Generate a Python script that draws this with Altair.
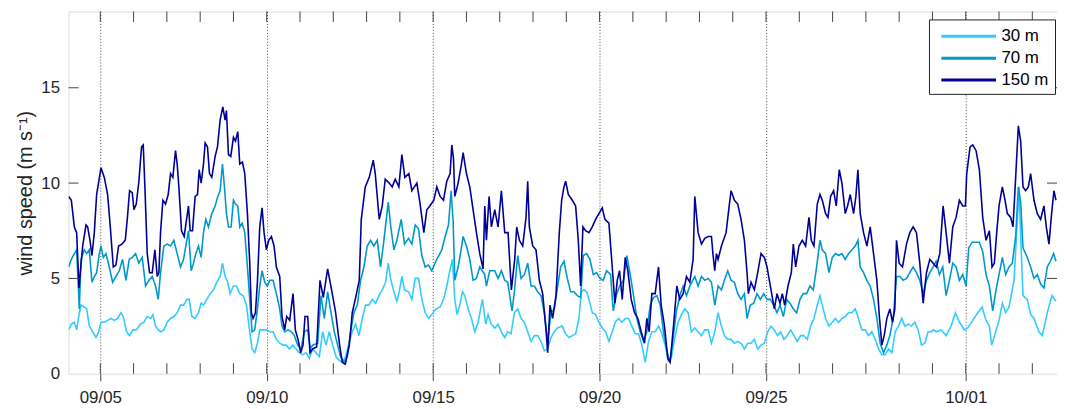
import altair as alt
import pandas as pd

# ---- data: time in days since 2014-09-04 00:00, wind speed in m/s ----
t150 = [0.05,0.13,0.22,0.29,0.36,0.47,0.57,0.62,0.69,0.75,0.82,0.89,1.02,1.12,1.22,1.30,1.39,1.47,1.55,1.65,1.75,1.81,1.88,1.96,2.01,2.08,2.16,2.24,2.29,2.34,2.41,2.48,2.56,2.64,2.71,2.76,2.81,2.88,2.96,3.04,3.11,3.18,3.26,3.31,3.36,3.44,3.52,3.60,3.65,3.70,3.77,3.85,3.92,3.97,4.03,4.10,4.15,4.22,4.28,4.35,4.45,4.52,4.60,4.68,4.75,4.79,4.85,4.92,5.00,5.06,5.13,5.19,5.27,5.34,5.42,5.49,5.54,5.59,5.66,5.72,5.79,5.86,5.92,5.99,6.06,6.14,6.22,6.29,6.39,6.46,6.54,6.60,6.69,6.79,6.86,6.94,7.02,7.09,7.15,7.23,7.30,
        7.38,7.50,7.60,7.70,7.83,7.98,8.07,8.19,8.27,8.36,8.48,8.57,8.66,8.78,8.84,8.96,9.08,9.20,9.26,9.38,9.47,9.56,9.68,9.77,9.86,9.97,10.06,10.15,10.27,10.36,10.51,10.60,10.72,10.81,10.90,11.02,11.11,11.21,
        11.31,11.41,11.51,11.56,11.61,11.65,11.75,11.85,11.90,12.00,12.10,12.20,12.30,12.40,12.50,12.55,12.60,12.68,12.75,12.85,12.95,13.05,13.15,13.25,13.35,13.45,13.51,13.59,13.69,13.79,13.84,13.89,13.99,14.09,14.19,14.29,14.39,14.44,14.51,14.59,14.69,14.79,14.86,14.93,14.98,15.06,15.18,15.28,15.36,15.43,15.50,15.58,15.68,15.78,15.88,15.98,16.08,16.16,16.28,16.38,16.46,16.53,16.60,16.68,16.77,16.85,16.95,17.05,17.15,17.25,17.35,17.42,17.49,17.57,17.67,17.77,17.85,17.95,18.05,18.12,18.22,18.32,18.41,18.51,18.61,18.71,18.81,18.86,18.96,19.06,19.16,
        19.26,19.36,19.41,19.46,19.51,19.56,19.66,19.80,19.90,19.95,20.05,20.15,20.25,20.35,20.43,20.47,20.55,20.65,20.75,20.85,20.95,21.03,21.13,21.25,21.33,21.42,21.49,21.56,21.66,21.76,21.82,21.89,21.99,22.09,22.19,22.29,22.36,22.44,22.54,22.62,22.69,22.79,22.86,22.94,23.03,23.11,23.20,23.28,23.38,23.45,23.53,23.63,23.70,23.76,23.83,23.93,24.03,24.13,24.23,24.33,24.41,24.48,24.55,24.63,24.72,24.80,24.87,24.92,25.00,25.10,25.22,25.32,25.42,25.52,25.62,25.72,25.82,25.92,26.02,26.12,26.22,26.32,26.41,26.51,26.61,26.71,26.81,26.91,26.99,27.03,27.13,27.21,27.31,27.41,27.51,27.61,27.71,27.79,27.86,27.93,28.00,28.10,28.18,28.25,28.35,28.42,28.50,28.58,28.65,28.72,28.80,28.88,28.95,29.05,29.15,29.25,29.35,29.42,29.50,29.58,29.65,29.71]
v150 = [9.3,9.1,7.7,7.4,4.5,6.7,7.8,7.7,7.0,6.2,7.4,9.4,10.8,10.3,9.4,7.7,5.6,5.7,6.7,6.8,7.0,8.1,9.6,9.5,8.6,8.9,10.1,11.9,12.0,9.8,6.3,5.3,5.3,6.5,5.1,5.3,7.4,9.1,8.9,9.4,10.5,10.3,11.7,11.0,9.8,7.5,7.2,8.2,8.8,7.5,7.5,9.3,9.4,10.7,10.0,11.0,12.1,11.9,10.5,10.3,11.4,11.9,13.3,14.0,13.3,13.8,11.5,11.4,12.4,12.2,12.7,11.0,11.1,10.5,8.4,5.8,3.2,2.9,3.2,4.8,7.7,8.7,7.4,6.5,7.0,7.2,6.7,5.6,5.1,3.0,2.3,3.0,2.8,4.2,2.3,1.8,1.1,1.5,3.0,3.0,1.1,
        1.3,1.4,4.9,4.0,5.5,4.1,3.2,1.5,0.6,0.5,1.5,3.2,3.9,4.9,8.1,9.8,10.3,11.2,10.5,8.1,8.8,10.2,10.0,9.8,10.2,9.8,11.5,10.3,10.5,9.6,10.0,9.0,7.4,8.6,8.8,9.1,9.8,9.3,
        9.1,10.1,10.5,12.0,11.3,9.3,10.0,11.0,11.6,10.5,9.8,8.6,7.4,6.3,5.5,8.8,7.0,9.3,7.7,8.6,7.7,9.6,7.4,7.4,4.4,6.0,7.7,7.0,6.7,8.2,10.1,7.7,6.7,6.5,4.9,4.2,2.3,1.1,3.6,2.9,4.1,7.4,9.1,9.8,10.1,9.4,9.1,8.8,7.0,4.6,7.7,7.5,7.4,7.7,8.1,8.4,8.7,8.1,7.9,5.6,3.7,4.9,5.4,3.9,6.1,5.4,3.9,3.2,2.9,2.2,1.6,2.9,2.2,4.2,4.2,5.6,3.6,2.5,0.8,0.6,2.5,4.6,3.9,4.2,5.1,4.8,6.0,9.3,7.4,6.8,7.1,
        7.2,7.2,6.2,5.4,6.3,6.0,6.7,7.4,8.9,9.6,9.1,8.9,8.1,7.0,5.3,4.2,4.8,4.4,5.3,6.3,6.1,5.6,4.6,3.4,4.2,3.7,4.2,3.6,4.6,5.3,6.8,5.6,6.7,7.0,6.7,8.2,7.0,6.7,8.9,9.4,9.1,8.4,8.2,9.3,9.6,8.8,10.7,10.0,8.4,8.8,9.4,8.4,9.3,10.7,8.4,7.4,6.7,7.7,6.3,4.9,2.9,1.5,2.0,2.9,3.4,2.7,3.4,7.0,5.8,5.6,6.8,7.4,7.7,7.4,5.8,3.7,5.3,6.0,5.8,5.6,6.3,8.8,7.4,5.8,7.7,8.2,9.1,8.8,8.8,10.5,11.9,12.0,11.7,10.7,8.2,7.0,7.5,5.6,5.8,7.4,8.8,9.8,9.1,8.4,8.2,7.7,10.3,13.0,12.2,9.8,9.6,9.8,10.5,9.1,8.4,8.1,8.8,7.7,6.8,8.4,9.6,9.1]

t70 = [0.05,0.13,0.22,0.29,0.37,0.42,0.52,0.59,0.67,0.75,0.82,0.89,0.97,1.02,1.09,1.17,1.27,1.37,1.47,1.57,1.67,1.77,1.87,1.96,2.06,2.16,2.26,2.36,2.46,2.56,2.66,2.74,2.81,2.91,3.01,3.11,3.21,3.31,3.41,3.50,3.57,3.65,3.73,3.80,3.87,3.95,4.03,4.10,4.17,4.25,4.35,4.45,4.53,4.60,4.67,4.73,4.79,4.85,4.93,5.00,5.06,5.13,5.19,5.26,5.34,5.42,5.49,5.56,5.64,5.72,5.79,5.86,5.94,6.02,6.09,6.19,6.29,6.39,6.46,6.54,6.64,6.74,6.83,6.93,7.03,7.13,7.23,7.31,
       7.38,7.53,7.63,7.73,7.83,7.93,8.03,8.13,8.22,8.32,8.42,8.52,8.62,8.72,8.82,8.92,9.02,9.12,9.22,9.32,9.42,9.52,9.65,9.72,9.82,9.91,10.04,10.14,10.26,10.36,10.46,10.56,10.66,10.76,10.86,10.96,11.08,
       11.26,11.36,11.46,11.54,11.60,11.65,11.75,11.82,11.90,12.00,12.10,12.20,12.30,12.40,12.55,12.60,12.70,12.85,12.95,13.05,13.15,13.24,13.37,13.44,13.54,13.64,13.74,13.84,13.94,14.04,14.14,14.24,14.34,14.44,14.54,14.64,14.74,
       14.83,14.93,15.03,15.13,15.23,15.33,15.43,15.51,15.61,15.71,15.81,15.91,16.01,16.11,16.21,16.33,16.41,16.50,16.60,16.72,16.82,16.92,17.02,17.12,17.22,17.32,17.42,17.52,17.62,17.72,17.82,17.92,18.02,18.11,18.21,18.31,18.41,18.51,18.61,18.71,18.86,18.96,
       19.06,19.16,19.26,19.36,19.46,19.56,19.66,19.75,19.85,19.95,20.05,20.15,20.25,20.35,20.43,20.53,20.63,20.73,20.83,20.93,21.03,21.13,21.23,21.33,21.42,21.52,21.62,21.72,21.82,21.92,22.02,22.12,22.22,22.32,22.42,22.52,22.62,22.69,22.79,22.89,22.99,23.09,23.18,23.28,23.38,23.48,23.58,23.68,23.76,23.83,23.93,24.03,24.13,24.23,24.33,24.43,24.53,24.63,24.72,24.82,24.92,25.02,25.12,25.22,25.32,25.42,25.52,25.62,25.72,25.82,25.92,
       26.02,26.11,26.21,26.31,26.41,26.51,26.61,26.71,26.81,26.91,27.01,27.09,27.19,27.31,27.41,27.51,27.61,27.71,27.81,27.90,28.00,28.10,28.20,28.30,28.40,28.50,28.58,28.65,28.72,28.85,28.95,29.05,29.15,29.25,29.35,29.45,29.54,29.64,29.71]
v70 = [5.6,6.0,6.3,6.5,3.4,6.0,6.5,6.3,6.5,4.8,5.1,5.3,6.3,6.7,6.1,6.3,5.6,4.8,5.1,5.4,6.0,4.9,6.0,6.1,6.3,5.8,6.1,4.6,4.9,5.1,4.6,3.9,5.3,6.7,6.8,6.7,7.0,6.3,5.6,6.0,6.7,7.5,5.4,5.8,6.3,6.7,6.1,7.4,8.1,7.7,8.4,8.8,9.3,9.6,11.0,9.8,8.4,7.7,7.7,9.1,8.9,8.8,7.7,7.9,7.4,5.6,3.9,2.2,2.3,3.4,4.6,5.4,4.8,4.6,4.9,4.9,4.2,3.4,2.5,2.2,2.3,2.2,2.0,1.5,1.3,2.2,2.3,1.3,
       1.5,1.6,4.1,2.9,4.3,3.2,2.2,1.5,0.9,0.6,0.9,2.2,3.2,3.6,4.9,5.6,6.7,7.0,6.7,7.0,5.6,7.0,9.0,7.8,6.5,7.0,8.1,6.8,7.1,6.8,7.8,7.6,6.2,5.6,5.7,5.4,5.9,
       6.5,7.2,7.8,9.6,8.0,4.9,5.6,6.3,7.2,6.7,6.0,4.9,5.0,5.6,5.2,4.6,5.4,5.4,5.0,5.4,4.9,4.8,3.3,4.3,6.2,5.0,5.2,5.8,4.6,4.6,4.3,4.1,3.2,1.7,3.2,3.4,4.6,
       5.6,5.9,5.0,4.3,4.3,4.1,4.0,6.2,6.3,6.0,5.2,5.3,5.0,4.9,5.4,5.2,3.3,4.1,4.6,4.9,6.2,5.2,4.1,2.9,2.2,1.7,2.2,3.6,4.0,4.1,3.6,2.2,1.2,0.6,1.9,3.3,4.1,4.6,4.1,4.6,5.1,4.6,
       5.1,4.9,5.0,4.8,3.6,4.6,4.4,4.9,5.4,4.9,4.8,4.2,3.9,4.2,2.9,3.6,3.7,4.2,3.9,4.2,3.9,3.9,3.6,3.2,3.6,3.0,3.9,3.7,3.4,3.2,3.9,4.2,4.2,4.6,4.4,5.6,7.0,6.5,6.3,5.3,6.1,6.3,6.2,6.3,6.0,6.3,6.5,6.7,7.0,5.6,5.3,4.9,4.6,3.9,2.9,1.6,1.1,1.5,2.0,2.9,5.1,5.1,4.9,5.0,5.3,5.6,5.3,4.9,4.2,4.9,5.3,
       5.6,5.9,5.2,5.6,4.1,4.9,5.8,5.6,4.9,5.2,4.6,6.6,6.9,6.9,6.9,6.4,5.2,4.6,3.3,4.3,5.2,6.1,5.2,5.6,5.8,7.2,9.8,9.0,6.6,6.1,5.6,5.0,5.2,4.7,4.5,5.6,5.9,6.3,5.9]

t30 = [0.05,0.13,0.22,0.29,0.35,0.42,0.52,0.59,0.67,0.77,0.87,0.95,1.02,1.12,1.22,1.32,1.42,1.52,1.62,1.69,1.79,1.88,1.98,2.08,2.21,2.31,2.41,2.51,2.58,2.66,2.74,2.81,2.91,3.01,3.11,3.21,3.31,3.41,3.50,3.60,3.67,3.75,3.85,3.95,4.03,4.10,4.20,4.30,4.40,4.50,4.60,4.67,4.75,4.83,4.90,5.00,5.09,5.19,5.29,5.39,5.49,5.56,5.64,5.72,5.79,5.89,5.99,6.09,6.19,6.29,6.39,6.49,6.59,6.68,6.78,6.88,6.98,7.08,7.18,7.28,
       7.38,7.58,7.68,7.78,7.88,7.98,8.08,8.18,8.27,8.37,8.47,8.57,8.67,8.77,8.87,8.97,9.07,9.17,9.27,9.37,9.47,9.57,9.65,9.72,9.82,9.91,9.98,10.06,10.14,10.26,10.36,10.46,10.56,10.66,10.76,10.86,10.96,11.08,
       11.21,11.31,11.41,11.50,11.58,11.65,11.72,11.80,11.88,11.95,12.05,12.15,12.25,12.35,12.48,12.58,12.65,12.75,12.85,12.95,13.05,13.15,13.24,13.34,13.44,13.54,13.64,13.74,13.84,13.94,14.04,14.14,14.24,14.34,14.44,14.54,14.64,14.74,
       14.88,14.98,15.08,15.18,15.28,15.38,15.45,15.53,15.61,15.68,15.78,15.88,15.98,16.08,16.18,16.28,16.38,16.47,16.57,16.67,16.77,16.87,16.97,17.07,17.17,17.27,17.37,17.47,17.57,17.67,17.77,17.87,17.97,18.06,18.16,18.26,18.36,18.46,18.56,18.66,18.76,18.86,18.96,
       19.06,19.16,19.26,19.36,19.46,19.56,19.66,19.75,19.85,19.95,20.05,20.15,20.25,20.35,20.45,20.55,20.65,20.75,20.85,20.95,21.05,21.15,21.25,21.35,21.44,21.54,21.64,21.74,21.84,21.94,22.04,22.14,22.24,22.34,22.44,22.54,22.62,22.69,22.79,22.89,22.99,23.08,23.18,23.28,23.38,23.48,23.58,23.68,23.78,23.88,23.98,24.08,24.18,24.28,24.38,24.48,24.58,24.68,24.78,24.88,24.98,25.08,25.17,25.27,25.37,25.47,25.57,25.67,25.77,25.87,25.97,
       26.02,26.11,26.26,26.41,26.56,26.69,26.81,26.96,27.06,27.21,27.36,27.49,27.61,27.71,27.78,27.90,28.00,28.10,28.20,28.30,28.45,28.55,28.60,28.65,28.72,28.85,28.95,29.05,29.20,29.30,29.45,29.59,29.71]
v30 = [2.3,2.6,2.7,2.3,3.0,3.6,3.5,3.4,2.5,2.2,1.9,2.2,2.7,2.7,2.8,2.9,2.8,2.9,3.2,3.0,2.2,2.0,2.3,2.3,2.6,2.7,3.0,2.9,3.1,2.5,2.3,2.2,2.3,2.7,2.9,3.0,3.2,3.6,3.6,3.9,3.9,3.0,2.9,3.2,3.7,3.6,3.9,4.2,4.4,4.8,5.1,5.8,5.1,4.8,4.2,4.6,4.6,4.2,4.1,3.6,2.2,1.3,1.1,1.6,2.3,2.3,2.3,2.2,2.2,1.8,1.6,1.5,1.5,1.3,1.5,1.3,1.1,1.0,1.1,0.8,
       1.3,0.9,2.2,1.5,2.2,1.5,0.9,0.7,0.6,0.9,1.6,2.2,2.6,2.0,2.9,3.6,3.6,3.9,3.7,4.1,4.4,4.8,5.8,5.0,4.3,3.8,4.3,5.1,4.4,4.3,3.9,5.0,5.0,3.9,3.2,2.9,3.1,3.4,
       3.5,3.9,4.6,5.4,6.0,3.9,3.1,3.6,4.3,4.1,3.4,2.9,2.2,2.7,3.9,2.6,3.1,2.6,2.4,2.6,2.2,1.9,2.2,2.1,3.2,3.4,2.9,2.7,2.2,1.7,2.0,2.0,1.7,1.2,1.3,1.9,2.2,2.4,
       2.5,2.1,1.9,2.0,2.1,2.9,4.3,4.4,4.3,3.9,3.2,3.1,2.7,2.4,2.2,1.7,2.2,2.7,2.9,2.7,2.9,2.9,2.5,2.1,2.1,1.5,0.6,1.7,2.2,2.2,2.5,2.1,1.5,0.7,0.9,1.9,2.7,3.1,3.4,3.2,2.2,2.4,2.2,
       2.0,2.3,2.3,1.6,2.2,3.2,2.5,2.0,1.8,1.8,1.6,1.7,1.6,1.3,1.6,1.6,1.8,1.3,1.5,1.6,2.2,2.5,2.3,2.0,2.2,1.8,2.0,2.3,2.0,1.7,2.0,2.0,1.8,2.5,2.9,3.6,4.1,3.6,2.9,2.5,2.7,2.9,2.7,2.9,3.0,3.2,3.2,3.4,2.9,2.3,2.3,2.0,2.2,1.8,1.3,1.0,1.0,1.3,1.1,2.2,2.5,2.9,2.5,2.6,2.5,2.7,2.3,1.5,1.6,2.2,2.2,
       2.3,2.2,2.3,2.0,2.5,3.2,2.7,2.3,2.4,2.8,3.2,3.5,2.8,2.5,1.5,2.2,2.8,3.7,3.2,3.5,4.9,8.0,9.8,7.2,4.1,3.9,3.1,2.9,2.2,2.0,3.2,4.1,3.8]

series_names = ["30 m", "70 m", "150 m"]
series_colors = ["#33CCFF", "#0099CC", "#000099"]

labeled_days = ["2014-09-05T00:00:00", "2014-09-10T00:00:00", "2014-09-15T00:00:00",
                "2014-09-20T00:00:00", "2014-09-25T00:00:00", "2014-10-01T00:00:00"]
all_days = ([f"2014-09-{d:02d}T00:00:00" for d in range(5, 31)] +
            [f"2014-10-{d:02d}T00:00:00" for d in (1, 2, 3)])
y_tick_values = [0, 5, 10, 15]

base = pd.Timestamp("2014-09-04 00:00:00")


def make_frame(ts, vs, name):
    times = [(base + pd.Timedelta(days=t)).strftime("%Y-%m-%dT%H:%M:%S") for t in ts]
    return pd.DataFrame({"time": times, "speed": vs, "height": name})


frames = [make_frame(t30, v30, "30 m"), make_frame(t70, v70, "70 m"), make_frame(t150, v150, "150 m")]

x_start = alt.DateTime(year=2014, month=9, date=4, hours=1, minutes=6)
x_end = alt.DateTime(year=2014, month=10, date=3, hours=17, minutes=48)
xscale = alt.Scale(domain=[x_start, x_end], nice=False)
yscale = alt.Scale(domain=[0, 19], nice=False, zero=True)
cscale = alt.Scale(domain=series_names, range=series_colors)

label_dt = [alt.DateTime(year=int(s[0:4]), month=int(s[5:7]), date=int(s[8:10])) for s in labeled_days]

xaxis = alt.Axis(values=label_dt, format="%m/%d", title=None, domain=False,
                 ticks=True, tickSize=7, tickColor="#444444", tickWidth=1,
                 grid=True, gridDash=[1, 2], gridColor="#333333", gridOpacity=0.9, gridWidth=1,
                 labelFontSize=17, labelColor="#262626", labelPadding=9, labelFont="Liberation Sans")
yaxis = alt.Axis(values=y_tick_values, title="wind speed (m s⁻¹)", domain=False, ticks=False,
                 grid=False, labelFontSize=17, labelColor="#262626", labelPadding=9,
                 labelFont="Liberation Sans", titleFont="Liberation Sans", titleFontSize=20,
                 titleFontWeight="normal", titleColor="#262626", titleAngle=270,
                 titleX=-43, titleY=182.5, titleAlign="center", titleBaseline="middle")

legend = alt.Legend(orient="none", legendX=867, legendY=8, title=None,
                    symbolType="M-2.9,0H2.9", symbolSize=361, symbolStrokeWidth=3,
                    symbolOffset=23, labelOffset=22, labelFontSize=17, labelColor="black",
                    labelFont="Liberation Sans", padding=6, rowPadding=3,
                    strokeColor="#222222", fillColor="white", cornerRadius=0)

layers = []
for df in frames:
    layers.append(
        alt.Chart(df).mark_line(strokeWidth=1.6, clip=True).encode(
            x=alt.X("time:T", scale=xscale, axis=xaxis),
            y=alt.Y("speed:Q", scale=yscale, axis=yaxis),
            color=alt.Color("height:N", scale=cscale, legend=legend),
        )
    )

# inside tick marks (MATLAB style): every day on bottom and top, y ticks left and right
tick_len_y = 0.55
bottom_ticks = pd.DataFrame({"day": all_days, "y0": 0.0, "y1": tick_len_y})
top_ticks = pd.DataFrame({"day": all_days, "y0": 19.0, "y1": 19.0 - tick_len_y})
xt = pd.concat([bottom_ticks, top_ticks])
xtick_layer = alt.Chart(xt).mark_rule(color="#444444", strokeWidth=1).encode(
    x=alt.X("day:T", scale=xscale, axis=xaxis),
    y=alt.Y("y0:Q", scale=yscale, axis=yaxis),
    y2="y1:Q",
)
yt = pd.DataFrame({
    "v": [5, 10, 15, 5, 10, 15],
    "x0": ["2014-09-04T01:06:00"] * 3 + ["2014-10-03T17:48:00"] * 3,
    "x1": ["2014-09-04T08:18:00"] * 3 + ["2014-10-03T10:36:00"] * 3,
})
ytick_layer = alt.Chart(yt).mark_rule(color="#444444", strokeWidth=1).encode(
    x=alt.X("x0:T", scale=xscale, axis=xaxis),
    x2="x1:T",
    y=alt.Y("v:Q", scale=yscale, axis=yaxis),
)

chart = alt.layer(*layers, xtick_layer, ytick_layer).properties(
    width=996, height=365,
    padding={"left": 61, "top": 2, "right": 0, "bottom": 33},
    autosize=alt.AutoSizeParams(type="none"),
).configure_view(stroke="#555555", strokeWidth=1).configure(font="Liberation Sans", background="white")

chart.save("out.html", embed_options={"renderer": "svg", "actions": False})
